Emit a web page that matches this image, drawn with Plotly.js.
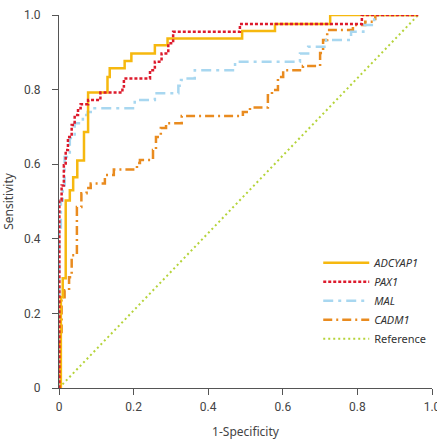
<!DOCTYPE html>
<html>
<head>
<meta charset="utf-8">
<script src="https://cdn.plot.ly/plotly-3.0.1.min.js"></script>
<style>html,body{margin:0;padding:0;background:#fff;}#chart{width:437px;height:443px;}</style>
</head>
<body>
<div id="chart"></div>
<script>
// Series names
const seriesNames = ["ADCYAP1", "PAX1", "MAL", "CADM1", "Reference"];

// ADCYAP1 ROC curve (1-Specificity, Sensitivity)
const adcyap1X = [0, 0.005, 0.010, 0.018, 0.029, 0.038, 0.049, 0.067, 0.078, 0.130, 0.136, 0.176, 0.194, 0.257, 0.291, 0.491, 0.579, 0.727, 0.963];
const adcyap1Y = [0, 0.243, 0.294, 0.503, 0.530, 0.565, 0.610, 0.686, 0.792, 0.834, 0.857, 0.877, 0.897, 0.919, 0.937, 0.957, 0.976, 1.0, 1.0];

// PAX1
const pax1X = [0, 0.001, 0.007, 0.013, 0.018, 0.024, 0.034, 0.042, 0.051, 0.058, 0.078, 0.111, 0.170, 0.174, 0.244, 0.257, 0.275, 0.293, 0.306, 0.485, 0.812, 0.963];
const pax1Y = [0, 0.503, 0.543, 0.597, 0.638, 0.673, 0.705, 0.732, 0.750, 0.761, 0.772, 0.792, 0.808, 0.830, 0.852, 0.875, 0.897, 0.924, 0.955, 0.976, 1.0, 1.0];

// MAL
const malX = [0, 0.001, 0.005, 0.010, 0.015, 0.029, 0.042, 0.064, 0.077, 0.091, 0.203, 0.257, 0.320, 0.327, 0.338, 0.364, 0.472, 0.646, 0.668, 0.716, 0.783, 0.816, 0.845, 0.963];
const malY = [0, 0.42, 0.503, 0.538, 0.619, 0.670, 0.710, 0.732, 0.740, 0.750, 0.772, 0.790, 0.810, 0.826, 0.830, 0.852, 0.875, 0.897, 0.915, 0.933, 0.955, 0.973, 1.0, 1.0];

// CADM1
const cadm1X = [0, 0.003, 0.007, 0.015, 0.027, 0.034, 0.048, 0.060, 0.074, 0.085, 0.123, 0.147, 0.209, 0.217, 0.252, 0.260, 0.273, 0.287, 0.329, 0.493, 0.512, 0.560, 0.571, 0.587, 0.601, 0.654, 0.700, 0.708, 0.719, 0.788, 0.821, 0.848, 0.963];
const cadm1Y = [0, 0.15, 0.235, 0.262, 0.297, 0.356, 0.485, 0.522, 0.536, 0.548, 0.571, 0.586, 0.603, 0.611, 0.638, 0.673, 0.697, 0.710, 0.729, 0.740, 0.752, 0.785, 0.799, 0.834, 0.852, 0.863, 0.898, 0.933, 0.960, 0.973, 0.982, 1.0, 1.0];

// Reference diagonal
const refX = [0, 0.963];
const refY = [0, 1.0];

// Axis ticks
const tickVals = [0, 0.2, 0.4, 0.6, 0.8, 1.0];
const tickText = ["0", "0.2", "0.4", "0.6", "0.8", "1.0"];

const traces = [
  {x: refX, y: refY, name: seriesNames[4], mode: "lines", legendrank: 5,
   line: {color: "#b5d33a", width: 2, dash: "2px,3px"}, cliponaxis: false},
  {x: cadm1X, y: cadm1Y, name: "<i>" + seriesNames[3] + "</i>", mode: "lines", legendrank: 4,
   line: {color: "#e98b1f", width: 2.5, shape: "hv", dash: "9px,4px,2px,4px"}, cliponaxis: false},
  {x: malX, y: malY, name: "<i>" + seriesNames[2] + "</i>", mode: "lines", legendrank: 3,
   line: {color: "#a8d7f0", width: 2.5, shape: "hv", dash: "10px,5px,3px,5px"}, cliponaxis: false},
  {x: adcyap1X, y: adcyap1Y, name: "<i>" + seriesNames[0] + "</i>", mode: "lines", legendrank: 1,
   line: {color: "#f6b80f", width: 2.5, shape: "hv"}, cliponaxis: false},
  {x: pax1X, y: pax1Y, name: "<i>" + seriesNames[1] + "</i>", mode: "lines", legendrank: 2,
   line: {color: "#dd1a2c", width: 2.5, shape: "hv", dash: "3px,2px"}, cliponaxis: false}
];

const axisCommon = {
  range: [0, 1],
  tickmode: "array",
  tickvals: tickVals,
  ticktext: tickText,
  ticks: "outside",
  ticklen: 6,
  tickwidth: 1,
  tickcolor: "#555",
  showline: true,
  linecolor: "#555",
  linewidth: 1,
  showgrid: false,
  zeroline: false,
  layer: "below traces",
  fixedrange: true,
  ticklabeloverflow: "allow",
  tickfont: {family: "Roboto, Arial, sans-serif", size: 12, color: "#444"}
};

const layout = {
  width: 437,
  height: 443,
  margin: {l: 59, r: 5, t: 15, b: 55},
  paper_bgcolor: "#fff",
  plot_bgcolor: "#fff",
  showlegend: true,
  legend: {
    x: 0.695, y: 0.375, xanchor: "left", yanchor: "top",
    font: {family: "Noto Sans, Roboto, sans-serif", size: 11, color: "#333"},
    bgcolor: "rgba(0,0,0,0)", borderwidth: 0,
    tracegroupgap: 0, itemwidth: 46
  },
  xaxis: Object.assign({}, axisCommon, {
    title: {text: "1-Specificity", font: {family: "Noto Sans, Roboto, sans-serif", size: 12, color: "#444"}, standoff: 14},
    ticklabelstandoff: 2
  }),
  yaxis: Object.assign({}, axisCommon, {
    title: {text: "Sensitivity", font: {family: "Noto Sans, Roboto, sans-serif", size: 12, color: "#444"}, standoff: 14},
    ticklabelstandoff: 9
  })
};

Plotly.newPlot("chart", traces, layout, {displayModeBar: false, staticPlot: true});
</script>
</body>
</html>
